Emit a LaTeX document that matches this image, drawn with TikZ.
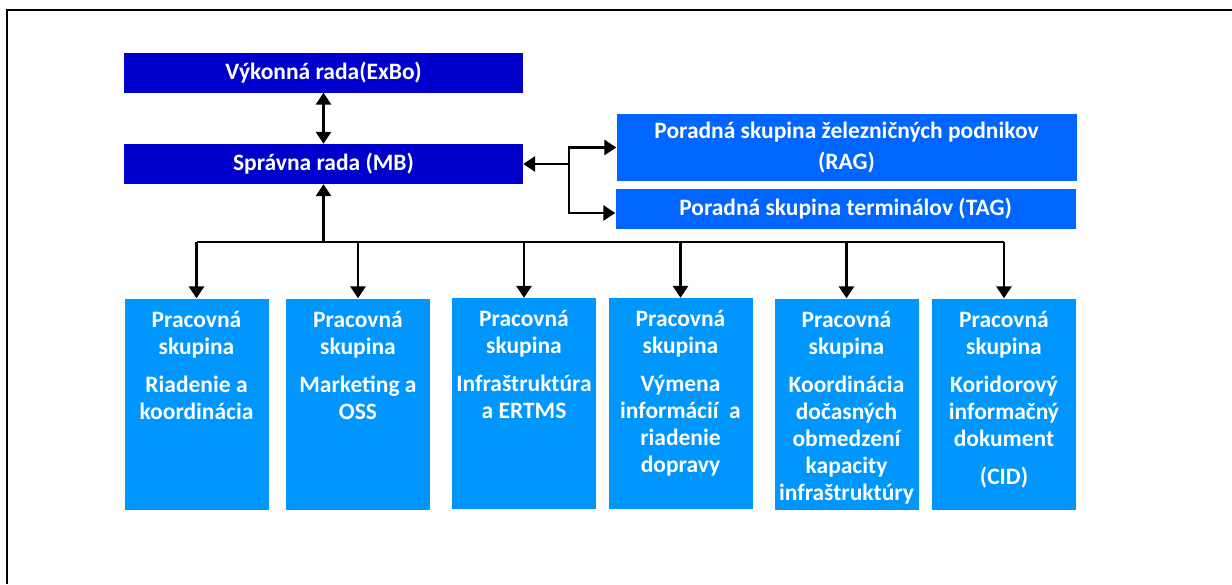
\documentclass[tikz,border=0pt]{standalone}
\usepackage{fontspec}
\setmainfont{Carlito}
\usetikzlibrary{arrows.meta}
\definecolor{topblue}{RGB}{0,0,204}
\definecolor{midblue}{RGB}{0,102,255}
\definecolor{lowblue}{RGB}{0,150,255}
\tikzset{
  boxbase/.style={rectangle, inner sep=0pt, text=white, font=\bfseries\fontsize{23.5}{27}\selectfont, align=center},
  topbox/.style={boxbase, fill=topblue, minimum width=399pt, minimum height=40pt},
  advbox/.style={boxbase, fill=midblue, minimum width=460pt},
  wgbox/.style={boxbase, fill=lowblue, minimum width=144pt, minimum height=211pt},
  wgtext/.style={boxbase, anchor=north},
  conn/.style={line width=2.8pt, draw=black},
  tip/.style={-{Triangle[width=15pt,length=12pt]}},
  dtip/.style={{Triangle[width=15pt,length=12pt]}-{Triangle[width=15pt,length=12pt]}},
  frameline/.style={line width=2.6pt, draw=black}
}
\begin{document}
\begin{tikzpicture}[x=1pt,y=-1pt]
\useasboundingbox (0,0) rectangle (1232,584);
\fill[white] (0,0) rectangle (1232,584);
% frame
\coordinate (fa) at (1232,10);
\coordinate (fb) at (7,10);
\coordinate (fc) at (7,584);
\draw[frameline] (fa) -- (fb) -- (fc);
% top boxes
\node[topbox] (exbo) at (323.5,72.5) {\raisebox{-1.5pt}{Výkonná rada(ExBo)}};
\node[topbox] (mb) at (323.5,164) {\raisebox{-1.5pt}{Správna rada (MB)}};
\node[advbox, minimum height=67pt, font=\bfseries\fontsize{23.5}{31}\selectfont] (rag) at (846.5,147.5) {Poradná skupina železničných podnikov\\(RAG)};
\node[advbox, minimum height=40pt] (tag) at (845.5,209) {Poradná skupina terminálov (TAG)};
% working groups
\node[wgbox] (w1) at (196.5,404) {};
\node[wgbox] (w2) at (358,404) {};
\node[wgbox] (w3) at (524,403.5) {};
\node[wgbox] (w4) at (680.5,403.5) {};
\node[wgbox] (w5) at (846.5,404) {};
\node[wgbox] (w6) at (1004,404) {};
\node[wgtext] (t1) at ([yshift=-13pt]w1.north) {Pracovná\\skupina\\[11pt]Riadenie a\\koordinácia};
\node[wgtext] (t2) at ([yshift=-13pt]w2.north) {Pracovná\\skupina\\[11pt]Marketing a\\OSS};
\node[wgtext] (t3) at ([yshift=-12pt]w3.north) {Pracovná\\skupina\\[11pt]Infraštruktúra\\a ERTMS};
\node[wgtext] (t4) at ([yshift=-12pt]w4.north) {Pracovná\\skupina\\[11pt]Výmena\\informácií~ a\\riadenie\\dopravy};
\node[wgtext] (t5) at ([yshift=-13pt]w5.north) {Pracovná\\skupina\\[11pt]Koordinácia\\dočasných\\obmedzení\\kapacity\\infraštruktúry};
\node[wgtext] (t6) at ([yshift=-13pt]w6.north) {Pracovná\\skupina\\[11pt]Koridorový\\informačný\\dokument\\[11pt](CID)};
% connectors
\draw[conn, dtip] (exbo.south) -- (mb.north);
\coordinate (bus) at (323.5,242);
\coordinate (j) at (569,164);
\draw[conn, tip] (j) -- (mb.east);
\draw[conn, tip] (j) |- (rag.west);
\draw[conn, tip] (j) |- ([yshift=-4pt]tag.west);
\draw[conn, tip] (bus) -- (mb.south);
\draw[conn] (bus -| w1.north) -- (bus -| w6.north);
\foreach \w in {w1,w2,w3,w4,w5,w6}{
  \draw[conn, tip] (bus -| \w.north) -- (\w.north);
}
\end{tikzpicture}
\end{document}
